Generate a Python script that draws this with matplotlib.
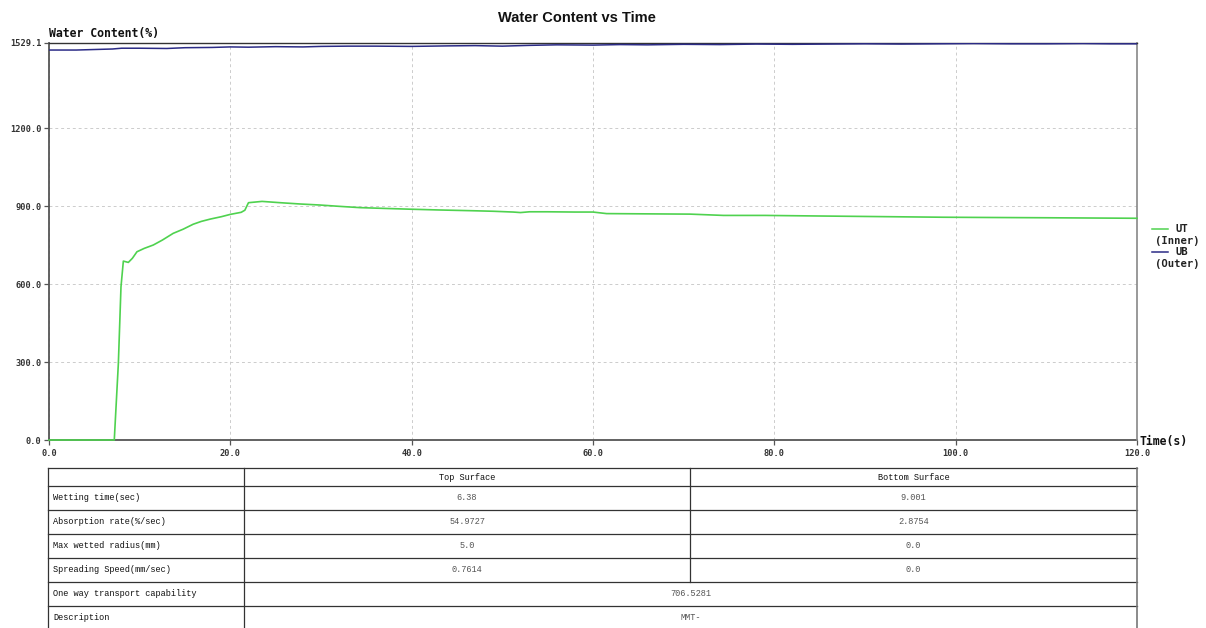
import matplotlib
matplotlib.use("Agg")
import matplotlib.pyplot as plt
from matplotlib.lines import Line2D

# ---- series data -------------------------------------------------------
ut_time = [0, 7.2, 7.65, 7.94, 8.2, 8.75, 9.2, 9.7, 10.5, 11.5, 12.5, 13.7,
           14.8, 15.9, 16.8, 17.8, 19.0, 20.0, 21.2, 21.6, 22.0, 23.5, 25.5,
           27.7, 29.9, 32.0, 34.3, 37.0, 39.8, 43.0, 46.8, 49.0, 51.2, 52.0,
           53.0, 55.0, 58.0, 60.0, 61.5, 66.0, 70.7, 74.4, 79.0, 84.3, 90.0,
           98.6, 104.0, 110.0, 115.0, 120.0]
ut_inner = [0, 0, 295, 590, 689, 684, 700, 725, 738, 751, 770, 796,
            812, 831, 842, 851, 860, 869, 877, 885, 914, 919, 914,
            909, 905, 900, 895, 892, 889, 886, 883, 881, 878, 876,
            879, 879, 878, 878, 872, 871, 870, 865, 865, 863, 861,
            858, 857, 856, 855, 854]

ub_time = [0, 3, 5, 7, 8, 10, 13, 15, 18, 20, 22, 25, 28, 30, 33, 36, 40, 44,
           47, 50, 53, 56, 60, 63, 66, 70, 74, 78, 82, 86, 90, 94, 98, 102,
           106, 110, 114, 117, 120]
ub_outer = [1502, 1502, 1504, 1506, 1509, 1509, 1508, 1511, 1512, 1514, 1513,
            1515, 1514, 1516, 1517, 1517, 1516, 1518, 1519, 1517, 1520, 1522,
            1521, 1523, 1522, 1524, 1523, 1525, 1524, 1525, 1526, 1525, 1526,
            1527, 1526, 1526, 1527, 1526, 1526]

x_ticks = [0, 20, 40, 60, 80, 100, 120]
y_ticks = [0, 300, 600, 900, 1200, 1529.1]

# ---- summary table -----------------------------------------------------
table_header = ["", "Top Surface", "Bottom Surface"]
row_labels = ["Wetting time(sec)", "Absorption rate(%/sec)",
              "Max wetted radius(mm)", "Spreading Speed(mm/sec)"]
top_values = ["6.38", "54.9727", "5.0", "0.7614"]
bottom_values = ["9.001", "2.8754", "0.0", "0.0"]
span_labels = ["One way transport capability", "Description"]
span_values = ["706.5281", "MMT-"]

W, H = 1206, 628
fig = plt.figure(figsize=(W / 100, H / 100), dpi=100)
fig.patch.set_facecolor("white")

ax = fig.add_axes([49 / W, 1 - 440 / H, (1137 - 49) / W, (440 - 43) / H])
ax.plot(ub_time, ub_outer, color="#2b2b86", lw=1.1, zorder=3)
ax.plot(ut_time, ut_inner, color="#4fd24f", lw=1.2, zorder=4, clip_on=False)

ax.set_xlim(0, 120)
ax.set_ylim(0, 1529.1)
ax.set_xticks(x_ticks)
ax.set_xticklabels([f"{v:.1f}" for v in x_ticks])
ax.set_yticks(y_ticks)
ax.set_yticklabels([f"{v:.1f}" for v in y_ticks])
for lab in ax.get_xticklabels() + ax.get_yticklabels():
    lab.set_fontfamily("DejaVu Sans Mono")
    lab.set_fontsize(6.2)
    lab.set_fontweight("bold")
    lab.set_color("#333333")
ax.tick_params(axis="both", direction="out", length=3.5, width=0.9,
               color="#555555", pad=2)
ax.tick_params(axis="x", pad=3)

ax.grid(True, color="#cccccc", linestyle=(0, (3, 3)), linewidth=0.7)
ax.set_axisbelow(True)
for s in ("left", "bottom"):
    ax.spines[s].set_color("#555555")
    ax.spines[s].set_linewidth(1.3)
    ax.spines[s].set_zorder(2)
ax.spines["top"].set_color("#333333")
ax.spines["top"].set_linewidth(1.0)
ax.spines["right"].set_color("#888888")
ax.spines["right"].set_linewidth(1.2)

fig.text(49 / W, 1 - 34 / H, "Water Content(%)", family="DejaVu Sans Mono",
         weight="bold", size=8.3, ha="left", va="center", color="#111111")
fig.text(1139 / W, 1 - 441 / H, "Time(s)", family="DejaVu Sans Mono",
         weight="bold", size=8.3, ha="left", va="center", color="#111111")
fig.text(577 / W, 1 - 18 / H, "Water Content vs Time", family="Liberation Sans",
         weight="bold", size=10.5, ha="center", va="center", color="#111111")

# legend entries
leg_font = dict(family="DejaVu Sans Mono", weight="bold", size=7.6,
                color="#222222", va="center")
for y0, color, name, side in [(229, "#4fd24f", "UT", "(Inner)"),
                              (252, "#2b2b86", "UB", "(Outer)")]:
    fig.add_artist(Line2D([1152 / W, 1168 / W], [1 - y0 / H, 1 - y0 / H],
                          color=color, lw=1.1))
    fig.text(1175 / W, 1 - y0 / H, name, ha="left", **leg_font)
    fig.text(1155 / W, 1 - (y0 + 12) / H, side, ha="left", **leg_font)

# ---- table drawn in pixel coordinates ----------------------------------
tax = fig.add_axes([0, 0, 1, 1], zorder=-1)
tax.set_xlim(0, W)
tax.set_ylim(H, 0)
tax.axis("off")
tax.patch.set_alpha(0)

col_x = [48, 244, 690, 1137]
row_y = [468, 486, 510, 534, 558, 582, 606, 629]
line_kw = dict(color="#333333", lw=0.9)
for y in row_y:
    tax.plot([col_x[0], col_x[3]], [y, y], **line_kw)
tax.plot([col_x[0], col_x[0]], [row_y[0], row_y[-1]], **line_kw)
tax.plot([col_x[3], col_x[3]], [row_y[0], row_y[-1]], color="#777777", lw=1.2)
tax.plot([col_x[1], col_x[1]], [row_y[0], row_y[-1]], **line_kw)
tax.plot([col_x[2], col_x[2]], [row_y[0], row_y[5]], **line_kw)

cell_font = dict(family="Liberation Mono", size=6.2, va="center")
mid1 = (col_x[1] + col_x[2]) / 2
mid2 = (col_x[2] + col_x[3]) / 2
midspan = (col_x[1] + col_x[3]) / 2

def row_center(i):
    return (row_y[i] + row_y[i + 1]) / 2

tax.text(mid1, row_center(0), table_header[1], ha="center", color="#111111",
         **cell_font)
tax.text(mid2, row_center(0), table_header[2], ha="center", color="#111111",
         **cell_font)
for i, (lab, tv, bv) in enumerate(zip(row_labels, top_values, bottom_values)):
    yc = row_center(i + 1)
    tax.text(col_x[0] + 5, yc, lab, ha="left", color="#111111", **cell_font)
    tax.text(mid1, yc, tv, ha="center", color="#555555", **cell_font)
    tax.text(mid2, yc, bv, ha="center", color="#555555", **cell_font)
for j, (lab, val) in enumerate(zip(span_labels, span_values)):
    yc = row_center(len(row_labels) + 1 + j)
    tax.text(col_x[0] + 5, yc, lab, ha="left", color="#111111", **cell_font)
    tax.text(midspan, yc, val, ha="center", color="#555555", **cell_font)

fig.savefig("out.png", dpi=100, facecolor="white")
